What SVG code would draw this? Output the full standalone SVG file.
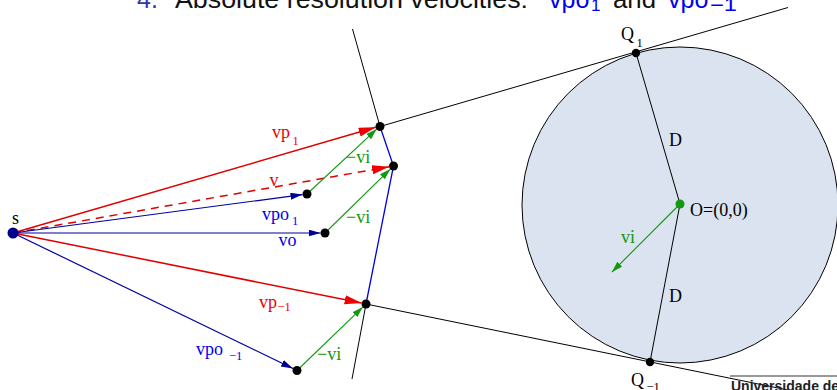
<svg xmlns="http://www.w3.org/2000/svg" width="837" height="390" viewBox="0 0 837 390">
<style>
.lbl{font-family:"Liberation Serif","Times New Roman",serif;font-size:18px}
.sub{font-family:"Liberation Serif","Times New Roman",serif;font-size:12.5px}
.red{fill:#ee0000}.blue{fill:#0000ee}.green{fill:#119911}.blk{fill:#000}
.ttl{font-family:"Liberation Sans",Arial,sans-serif;font-size:25px}
.lr{stroke:#e00000;stroke-width:1.5;fill:none}
.lb{stroke:#0000a0;stroke-width:1.2;fill:none}
.lg{stroke:#119911;stroke-width:1.1;fill:none}
.lk{stroke:#000;stroke-width:1;fill:none}
.dot{fill:#000}
</style>
<defs>
<marker id="ar" markerUnits="userSpaceOnUse" markerWidth="20" markerHeight="12" refX="17" refY="4.5" orient="auto"><path d="M0,0 L17,4.5 L0,9 Z" fill="#ee0000"/></marker>
<marker id="ab" markerUnits="userSpaceOnUse" markerWidth="14" markerHeight="9" refX="12" refY="3.5" orient="auto"><path d="M0,0 L12,3.5 L0,7 Z" fill="#000090"/></marker>
<marker id="ag" markerUnits="userSpaceOnUse" markerWidth="13" markerHeight="9" refX="11" refY="3.5" orient="auto"><path d="M0,0 L11,3.5 L0,7 Z" fill="#119911"/></marker>
</defs>

<g id="title">
<text class="ttl" x="137" y="7.5" fill="#3333b3">4.</text>
<text class="ttl" x="175" y="7.5" fill="#111" textLength="353" lengthAdjust="spacingAndGlyphs">Absolute resolution velocities:</text>
<text class="ttl blue" x="549" y="7.5">vpo</text>
<text class="ttl blue" x="591" y="11" style="font-size:17px">1</text>
<text class="ttl" x="613" y="7.5" fill="#111" textLength="43" lengthAdjust="spacingAndGlyphs">and</text>
<text class="ttl blue" x="668" y="7.5">vpo</text>
<text class="ttl blue" x="710" y="11" style="font-size:18px" textLength="27" lengthAdjust="spacingAndGlyphs">−1</text>
</g>

<g id="circle">
<circle cx="680" cy="205" r="158" fill="#dae3ef" stroke="#000" stroke-width="1"/>
</g>

<g id="connectors">
<line class="lk" x1="380" y1="126.5" x2="788" y2="7.5"/>
<line class="lk" x1="352.5" y1="29" x2="380" y2="126.5"/>
<polyline points="380,126.5 393.5,166 366,304" stroke="#0000dd" stroke-width="1.3" fill="none"/>
<line class="lk" x1="366" y1="304" x2="352" y2="379"/>
<line class="lk" x1="366" y1="304" x2="800" y2="392.5"/>
<polyline class="lk" points="636,53 680,204 650,362"/>

<line class="lr" x1="13" y1="233" x2="375.7" y2="127.3" marker-end="url(#ar)"/>
<line class="lr" x1="13" y1="233" x2="389.1" y2="166.8" stroke-width="1.2" stroke-dasharray="8,6" marker-end="url(#ar)"/>
<line class="lb" x1="13" y1="233" x2="302.5" y2="194.6" marker-end="url(#ab)"/>
<line class="lb" x1="13" y1="233" x2="320.5" y2="233" marker-end="url(#ab)"/>
<line class="lr" x1="13" y1="233" x2="361.6" y2="303.1" marker-end="url(#ar)"/>
<line class="lb" x1="13" y1="233" x2="293" y2="368.5" marker-end="url(#ab)"/>

<line class="lg" x1="307" y1="194" x2="376.7" y2="129.1" marker-end="url(#ag)"/>
<line class="lg" x1="325" y1="233" x2="390.3" y2="169.1" marker-end="url(#ag)"/>
<line class="lg" x1="297" y1="370.5" x2="362.8" y2="307.1" marker-end="url(#ag)"/>
<line class="lg" x1="680" y1="204" x2="612" y2="272" marker-end="url(#ag)"/>
</g>

<g id="node-s"><circle cx="13" cy="233" r="5.5" fill="#00008b"/><text class="lbl blk" x="12" y="224">s</text></g>
<g id="node-top"><circle class="dot" cx="380" cy="126.5" r="4.5"/></g>
<g id="node-right"><circle class="dot" cx="393.5" cy="166" r="4.5"/></g>
<g id="node-bottom"><circle class="dot" cx="366" cy="304" r="4.5"/></g>
<g id="node-vpo1"><circle class="dot" cx="307" cy="194" r="4.5"/></g>
<g id="node-vo"><circle class="dot" cx="325" cy="233" r="4.5"/></g>
<g id="node-vpom1"><circle class="dot" cx="297" cy="370.5" r="4.5"/></g>
<g id="node-Q1"><circle class="dot" cx="636" cy="53" r="4.2"/><text class="lbl blk" x="621" y="40">Q</text><text class="sub blk" x="636.5" y="46.5">1</text></g>
<g id="node-Qm1"><circle class="dot" cx="650" cy="362" r="4.2"/><text class="lbl blk" x="631" y="386">Q</text><text class="sub blk" x="646.5" y="391">−1</text></g>
<g id="node-O"><circle cx="680" cy="204" r="4.5" fill="#119911"/><text class="lbl blk" x="690" y="216">O=(0,0)</text></g>

<g id="labels">
<text class="lbl red" x="272" y="138">vp</text><text class="sub red" x="292.5" y="144.5">1</text>
<text class="lbl red" x="269.5" y="186">v</text>
<text class="lbl blue" x="262" y="220">vpo</text><text class="sub blue" x="292" y="225">1</text>
<text class="lbl blue" x="278.5" y="246">vo</text>
<text class="lbl green" x="346" y="163">−vi</text>
<text class="lbl green" x="346" y="223">−vi</text>
<text class="lbl red" x="259" y="308">vp</text><text class="sub red" x="277.5" y="311">−1</text>
<text class="lbl blue" x="196" y="355">vpo</text><text class="sub blue" x="229" y="359.5">−1</text>
<text class="lbl green" x="317" y="360">−vi</text>
<text class="lbl blk" x="669" y="146">D</text>
<text class="lbl blk" x="669" y="302">D</text>
<text class="lbl green" x="621" y="243">vi</text>
</g>

<g id="footer">
<line x1="730" y1="376" x2="837" y2="376" stroke="#999" stroke-width="2"/>
<text x="731" y="391" font-family="'Liberation Sans',Arial,sans-serif" font-weight="bold" font-size="14" fill="#222">Universidade de</text>
</g>
</svg>
